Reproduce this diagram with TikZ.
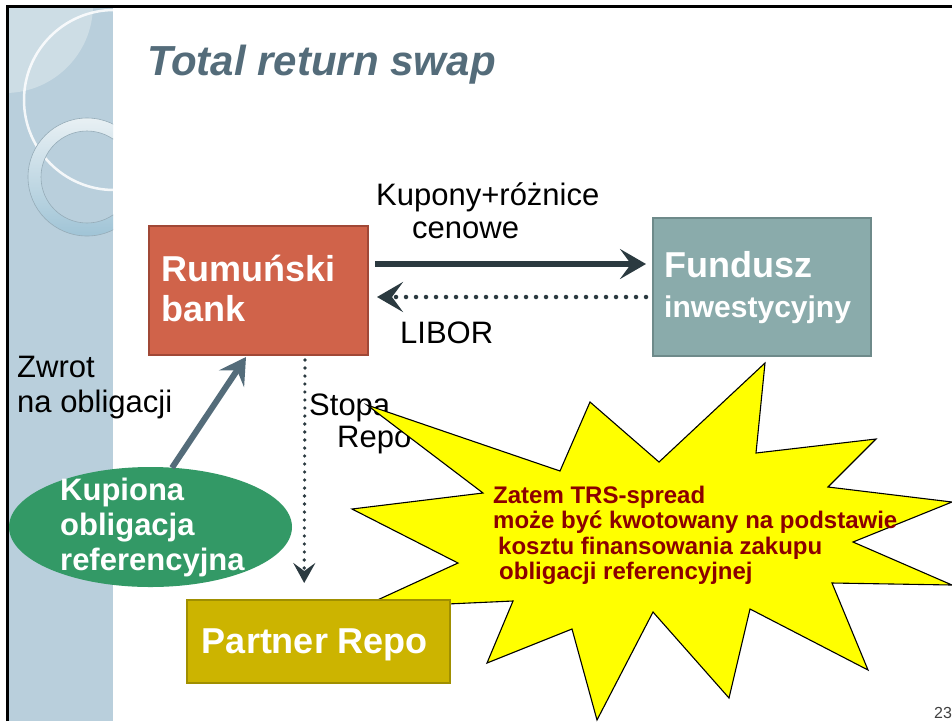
\documentclass[tikz,border=0pt]{standalone}
\usepackage{fontspec}
\setmainfont{Liberation Sans}
\usetikzlibrary{arrows.meta,shapes.geometric}
\definecolor{sidebarc}{RGB}{185,207,220}
\definecolor{sidelight}{RGB}{205,221,229}
\definecolor{ringtop}{RGB}{232,240,244}
\definecolor{ringbot}{RGB}{160,196,214}
\definecolor{ringedge}{RGB}{150,172,184}
\definecolor{slate}{RGB}{84,108,122}
\definecolor{darkarr}{RGB}{43,58,64}
\definecolor{bankfill}{RGB}{208,99,74}
\definecolor{bankdraw}{RGB}{160,72,54}
\definecolor{fundfill}{RGB}{138,171,171}
\definecolor{funddraw}{RGB}{110,138,138}
\definecolor{partfill}{RGB}{204,180,0}
\definecolor{partdraw}{RGB}{160,143,0}
\definecolor{kupfill}{RGB}{51,153,102}
\definecolor{starY}{RGB}{255,255,0}
\definecolor{starT}{RGB}{139,0,0}
\definecolor{pagec}{RGB}{64,64,64}
\begin{document}
\begin{tikzpicture}[x=1pt,y=-1pt,
  boxshape/.style={rectangle, anchor=north west, inner sep=0pt, line width=2pt},
  boxtext/.style={inner sep=0pt, text=white, font=\bfseries\fontsize{36}{40}\selectfont, align=left},
  plaintext/.style={inner sep=0pt, text=black, align=left},
  solidarrow/.style={draw=darkarr, line width=5.5pt, -{Stealth[length=26pt,width=30pt,inset=11pt]}},
  dotarrow/.style={draw=darkarr, line width=4.5pt, line cap=round, dash pattern=on 0pt off 10pt, -{Stealth[length=26pt,width=30pt,inset=11pt]}},
  dotsmall/.style={draw=darkarr, line width=3.6pt, line cap=round, dash pattern=on 0pt off 8pt, -{Stealth[length=20pt,width=22pt,inset=8pt]}},
  slatearrow/.style={draw=slate, line width=6pt, -{Stealth[length=26pt,width=30pt,inset=10pt]}}
]
\useasboundingbox (0,0) rectangle (952,721);
\fill[white] (0,0) rectangle (952,721);
% sidebar
\begin{scope}
  \clip (9,8) rectangle (113,721);
  \fill[sidebarc] (9,8) rectangle (113,721);
  \fill[sidelight] (5,5) circle (88pt);
  \draw[white, opacity=.85, line width=2.5pt] (114,100) circle (90pt);
  \shade[top color=ringtop, bottom color=ringbot, even odd rule] (87,177) circle (59pt) (87,177) circle (46pt);
  \draw[ringedge, line width=0.6pt] (87,177) circle (59pt) (87,177) circle (46pt);
\end{scope}
% frame
\draw[black, line width=2.2pt] (7.5,721) -- (7.5,6.5) -- (952,6.5);
% title
\node[anchor=base west, inner sep=0pt, text=slate, font=\bfseries\itshape\fontsize{42}{50}\selectfont] (title) at (147,75) {Total return swap};
% boxes
\node[boxshape, fill=bankfill, draw=bankdraw, minimum width=219pt, minimum height=129pt] (bank) at (148,225) {};
\node[boxtext, anchor=base west] (bankt) at (161,321) {Rumuński\\bank};
\node[boxshape, fill=fundfill, draw=funddraw, minimum width=218pt, minimum height=138pt] (fund) at (652,217) {};
\node[boxtext, anchor=base west] (fundt1) at (664,277) {Fundusz};
\node[boxtext, anchor=base west, font=\bfseries\fontsize{30}{36}\selectfont] (fundt2) at (664,317) {inwestycyjny};
% arrows between bank and fund
\draw[solidarrow] ([xshift=6pt,yshift=26.5pt]bank.east) -- ([xshift=-6pt,yshift=23pt]fund.west);
\draw[dotarrow] ([xshift=-6pt,yshift=-10pt]fund.west) -- ([xshift=8pt,yshift=-6.5pt]bank.east);
\node[plaintext, anchor=base west, font=\fontsize{31}{33}\selectfont] (kupony) at (376,238) {Kupony+różnice\\\hspace*{36pt}cenowe};
\node[plaintext, anchor=base west, font=\fontsize{31}{33}\selectfont] (libor) at (400,343) {LIBOR};
% left part
\node[plaintext, anchor=base west, font=\fontsize{31}{35}\selectfont] (zwrot) at (17,412) {Zwrot\\na obligacji};
\node[ellipse, fill=kupfill, minimum width=283pt, minimum height=120pt, inner sep=0pt] (kup) at (150.5,527) {};
\node[boxtext, anchor=base west, font=\bfseries\fontsize{31}{35}\selectfont] (kupt) at (60,570) {Kupiona\\obligacja\\referencyjna};
\draw[slatearrow] ([xshift=21.5pt,yshift=-1pt]kup.north) -- ([xshift=-12.5pt,yshift=-1pt]bank.south);
% partner repo box (declared first for the arrow end, painted on top later)
\path (187,600) coordinate (pnw);
\node[rectangle, inner sep=0pt, minimum width=263pt, minimum height=83pt, anchor=north west] (partner) at (pnw) {};
\draw[dotsmall] ([xshift=46.5pt,yshift=-4pt]bank.south) -- ([xshift=-14.5pt,yshift=17pt]partner.north);
\node[plaintext, anchor=base west, font=\fontsize{31}{32}\selectfont] (stopa) at (309,447) {Stopa\\\hspace*{28pt}Repo};
% star
\draw[fill=starY, draw=black, line width=1.1pt, line join=miter]
  (367,405) -- (560,471) -- (590,402) -- (659,462) -- (765,363) -- (756,453) -- (876,439) -- (828,487)
  -- (952,502) -- (853,542) -- (952,585) -- (832,583) -- (868,670) -- (750,609) -- (729,698) -- (653,612)
  -- (597,720) -- (572,629) -- (487,663) -- (513,601) -- (360,608) -- (458,563) -- (352,509) -- (483,493) -- cycle;
\node[inner sep=0pt, anchor=base west, align=left, text=starT, font=\bfseries\fontsize{24}{25.5}\selectfont] (startext) at (493,579.5)
  {Zatem TRS-spread\\może być kwotowany na podstawie\\\hspace*{5pt}kosztu finansowania zakupu\\\hspace*{6pt}obligacji referencyjnej};
% partner box on top
\fill[partfill] (partner.north west) rectangle (partner.south east);
\draw[partdraw, line width=2pt] (partner.north west) rectangle (partner.south east);
\node[boxtext, anchor=base] (partnert) at (315,653) {Partner Repo};
% page number
\node[inner sep=0pt, anchor=base west, text=pagec, font=\fontsize{16}{18}\selectfont] (pagenum) at (934,718) {23};
\end{tikzpicture}
\end{document}
